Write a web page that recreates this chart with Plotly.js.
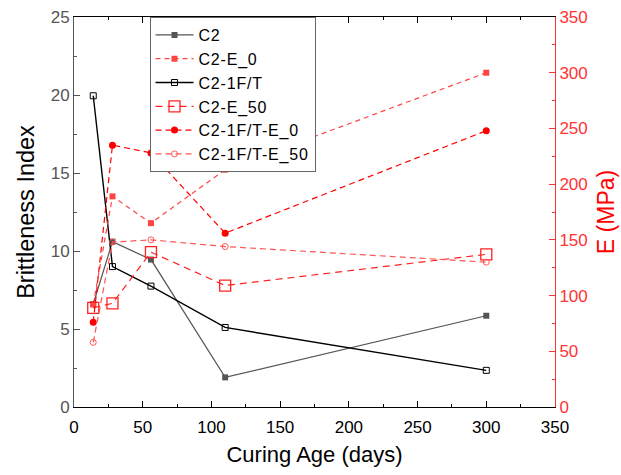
<!DOCTYPE html>
<html><head><meta charset="utf-8">
<script src="https://cdn.plot.ly/plotly-3.0.1.min.js"></script>
<style>body{margin:0;background:#fff}#chart{width:621px;height:475px}
.legendtext{letter-spacing:0.8px}</style>
</head><body><div id="chart"></div>
<script>
const days = [14, 28, 56, 110, 300];
const c2 = [6.6, 10.6, 9.45, 1.9, 5.85];
const c2_1ft = [19.95, 9.0, 7.75, 5.1, 2.35];
const c2_E0 = [92, 189, 165, 213, 300];
const c2_E50 = [89, 93, 139, 109, 137];
const c2_1ft_E0 = [76, 235, 228, 156, 248];
const c2_1ft_E50 = [58, 148, 150, 144, 130];

const FONT = '"Liberation Sans", Arial, sans-serif';
const traces = [
  {x: days, y: c2, name: 'C2', mode: 'lines+markers', yaxis: 'y',
   line: {color: '#555555', width: 1.2}, marker: {symbol: 'square', size: 6, color: '#555555'}},
  {x: days, y: c2_E0, name: 'C2-E_0', mode: 'lines+markers', yaxis: 'y2',
   line: {color: '#ff4444', width: 1.2, dash: '5px,4px'}, marker: {symbol: 'square', size: 6, color: '#ff4444'}},
  {x: days, y: c2_1ft, name: 'C2-1F/T', mode: 'lines+markers', yaxis: 'y',
   line: {color: '#000000', width: 1.4}, marker: {symbol: 'square-open', size: 6, color: '#000000', line: {width: 1}}},
  {x: days, y: c2_E50, name: 'C2-E_50', mode: 'lines+markers', yaxis: 'y2',
   line: {color: '#ff2222', width: 1.2, dash: '7px,5px'}, marker: {symbol: 'square-open', size: 11, color: '#ff2222', line: {width: 1.3}}},
  {x: days, y: c2_1ft_E0, name: 'C2-1F/T-E_0', mode: 'lines+markers', yaxis: 'y2',
   line: {color: '#ff0000', width: 1.2, dash: '6px,4px'}, marker: {symbol: 'circle', size: 7, color: '#ff0000'}},
  {x: days, y: c2_1ft_E50, name: 'C2-1F/T-E_50', mode: 'lines+markers', yaxis: 'y2',
   line: {color: '#ff5555', width: 1.2, dash: '6px,4px'}, marker: {symbol: 'circle-open', size: 6, color: '#ff5555', line: {width: 1}}}
];

const layout = {
  width: 621, height: 475,
  margin: {l: 73.5, r: 65.5, t: 17, b: 68},
  paper_bgcolor: '#ffffff', plot_bgcolor: '#ffffff',
  font: {family: FONT, size: 17, color: '#000'},
  showlegend: true,
  legend: {x: 0.157, y: 1, xanchor: 'left', yanchor: 'top', bgcolor: '#ffffff',
    bordercolor: '#666666', borderwidth: 1, font: {family: FONT, size: 16, color: '#000'},
    tracegroupgap: 0, itemwidth: 38},
  xaxis: {range: [0, 350], tickvals: [0, 50, 100, 150, 200, 250, 300, 350],
    ticks: 'inside', ticklen: 6, tickcolor: '#000', showline: true, linecolor: '#000', linewidth: 1,
    mirror: 'ticks', showgrid: false, zeroline: false, automargin: false, ticklabelstandoff: 5,
    minor: {ticks: 'inside', ticklen: 3, dtick: 25, tickcolor: '#000'},
    tickfont: {size: 17, color: '#000'},
    title: {text: 'Curing Age (days)', font: {size: 22, color: '#000'}, standoff: 10}},
  yaxis: {range: [0, 25], tickvals: [0, 5, 10, 15, 20, 25],
    ticks: 'inside', ticklen: 6, tickcolor: '#555', showline: true, linecolor: '#555', linewidth: 1,
    showgrid: false, zeroline: false, automargin: false,
    minor: {ticks: 'inside', ticklen: 3, dtick: 2.5, tickcolor: '#555'},
    tickfont: {size: 17, color: '#555'},
    title: {text: 'Brittleness Index', font: {size: 23.5, color: '#000'}, standoff: 9}},
  yaxis2: {range: [0, 350], tickvals: [0, 50, 100, 150, 200, 250, 300, 350], overlaying: 'y', side: 'right',
    ticks: 'inside', ticklen: 6, tickcolor: '#ff3333', showline: true, linecolor: '#ff3333', linewidth: 1,
    showgrid: false, zeroline: false, automargin: false,
    minor: {ticks: 'inside', ticklen: 3, dtick: 25, tickcolor: '#ff3333'},
    tickfont: {size: 17, color: '#ff3333'},
    title: {text: 'E (MPa)', font: {size: 23, color: '#ff0000'}, standoff: 11}}
};
Plotly.newPlot('chart', traces, layout, {displayModeBar: false, staticPlot: true});
</script></body></html>
